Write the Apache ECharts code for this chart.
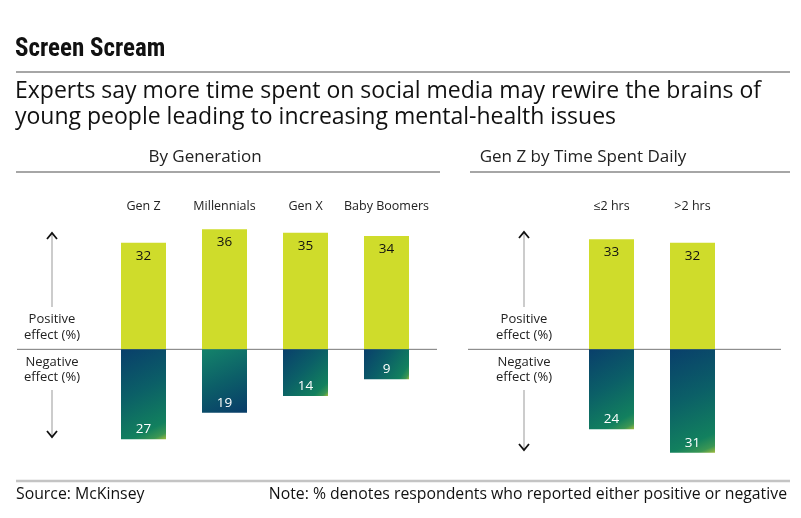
<!DOCTYPE html>
<html lang="en">

<head>
    <meta charset="UTF-8">
    <title>Screen Scream</title>
    <script src="https://cdn.jsdelivr.net/npm/echarts@6.0.0/dist/echarts.min.js"></script>
    <style>
        * {
            margin: 0;
            padding: 0;
        }

        body {
            background: #ffffff;
        }

        #chart {
            width: 801px;
            height: 518px;
        }
    </style>
</head>

<body>
    <div id="chart"></div>

    <script>
        // data
        const generations = ['Gen Z', 'Millennials', 'Gen X', 'Baby Boomers'];
        const genPositive = [32, 36, 35, 34];
        const genNegative = [27, 19, 14, 9];

        const timeBuckets = ['≤2 hrs', '>2 hrs'];
        const timePositive = [33, 32];
        const timeNegative = [24, 31];

        const FONT = "'Open Sans', 'DejaVu Sans', sans-serif";
        const POS_COLOR = '#cfdc2b';

        // the Millennials bar runs its gradient the other way round
        function negGradient(reversed) {
            if (reversed) {
                return new echarts.graphic.LinearGradient(0.2, 0, 0.8, 1, [
                    { offset: 0, color: '#13806a' },
                    { offset: 0.5, color: '#0c5f68' },
                    { offset: 1, color: '#093f69' }
                ]);
            }
            return new echarts.graphic.LinearGradient(0, 0, 1, 1, [
                { offset: 0, color: '#093f6b' },
                { offset: 0.45, color: '#0b5f67' },
                { offset: 0.84, color: '#12805e' },
                { offset: 0.94, color: '#3a9654' },
                { offset: 1, color: '#9fbb3e' }
            ]);
        }

        function negData(values, reversedIdx) {
            return values.map(function (v, i) {
                return {
                    value: -v,
                    itemStyle: { color: negGradient(reversedIdx.indexOf(i) >= 0) }
                };
            });
        }

        function xAxisFor(idx, cats) {
            return {
                type: 'category',
                gridIndex: idx,
                data: cats,
                position: 'top',
                axisLine: { show: false },
                axisTick: { show: false },
                axisLabel: { interval: 0, color: '#222', fontSize: 12.5, fontFamily: FONT, margin: 3 }
            };
        }

        function yAxisFor(idx) {
            return { type: 'value', gridIndex: idx, min: -32, max: 40, show: false };
        }

        function posSeries(idx, values) {
            return {
                type: 'bar',
                xAxisIndex: idx,
                yAxisIndex: idx,
                stack: 's' + idx,
                barWidth: 45,
                data: values,
                itemStyle: { color: POS_COLOR },
                label: {
                    show: true,
                    position: 'insideTop',
                    distance: 6,
                    color: '#111',
                    fontSize: 13.5,
                    fontFamily: FONT
                },
                silent: true
            };
        }

        function negSeries(idx, values, reversedIdx) {
            return {
                type: 'bar',
                xAxisIndex: idx,
                yAxisIndex: idx,
                stack: 's' + idx,
                barWidth: 45,
                data: negData(values, reversedIdx),
                label: {
                    show: true,
                    position: 'insideBottom',
                    distance: 3,
                    color: '#fff',
                    fontSize: 13.5,
                    fontFamily: FONT,
                    formatter: function (p) { return Math.abs(p.value); }
                },
                silent: true
            };
        }

        function hline(x1, x2, y, color, w) {
            return {
                type: 'line',
                silent: true,
                shape: { x1: x1, y1: y, x2: x2, y2: y },
                style: { stroke: color, lineWidth: w }
            };
        }

        function txt(text, x, y, size, opts) {
            opts = opts || {};
            return {
                type: 'text',
                silent: true,
                x: x,
                y: y,
                style: {
                    text: text,
                    font: (opts.weight || 'normal') + ' ' + size + 'px ' + (opts.family || FONT),
                    fill: opts.color || '#111',
                    align: opts.align || 'left',
                    verticalAlign: 'middle'
                }
            };
        }

        // vertical arrow with the two effect captions
        function effectArrow(x, top, bottom) {
            const els = [];
            els.push({ type: 'line', silent: true, shape: { x1: x, y1: top, x2: x, y2: 307 }, style: { stroke: '#999', lineWidth: 1 } });
            els.push({ type: 'line', silent: true, shape: { x1: x, y1: 390, x2: x, y2: bottom }, style: { stroke: '#999', lineWidth: 1 } });
            els.push({ type: 'polyline', silent: true, shape: { points: [[x - 5, top + 6], [x, top], [x + 5, top + 6]] }, style: { stroke: '#111', lineWidth: 1.8, fill: null } });
            els.push({ type: 'polyline', silent: true, shape: { points: [[x - 5, bottom - 6], [x, bottom], [x + 5, bottom - 6]] }, style: { stroke: '#111', lineWidth: 1.8, fill: null } });
            els.push(txt('Positive', x, 319, 13, { align: 'center', color: '#222' }));
            els.push(txt('effect (%)', x, 335, 13, { align: 'center', color: '#222' }));
            els.push(txt('Negative', x, 362, 13, { align: 'center', color: '#222' }));
            els.push(txt('effect (%)', x, 377, 13, { align: 'center', color: '#222' }));
            return els;
        }

        const chart = echarts.init(document.getElementById('chart'), null, { renderer: 'canvas' });

        const option = {
            animation: false,
            backgroundColor: '#ffffff',
            grid: [
                { left: 103, top: 216, width: 324, height: 240 },
                { left: 571, top: 216, width: 162, height: 240 }
            ],
            xAxis: [xAxisFor(0, generations), xAxisFor(1, timeBuckets)],
            yAxis: [yAxisFor(0), yAxisFor(1)],
            series: [
                posSeries(0, genPositive),
                negSeries(0, genNegative, [1]),
                posSeries(1, timePositive),
                negSeries(1, timeNegative, [])
            ]
        };

        chart.setOption(option);

        // zero lines sit on the value scale
        const zeroY = chart.convertToPixel({ yAxisIndex: 0 }, 0);

        const graphics = [
            txt('Screen Scream', 15, 50, 25, { weight: 'bold', family: "'Liberation Sans Narrow', 'Roboto Condensed', 'DejaVu Sans Condensed', sans-serif" }),
            hline(16, 790, 72, '#888', 1.5),
            txt('Experts say more time spent on social media may rewire the brains of', 15, 91, 23),
            txt('young people leading to increasing mental-health issues', 15, 117, 23),
            txt('By Generation', 205, 157, 17, { align: 'center', color: '#222' }),
            txt('Gen Z by Time Spent Daily', 583, 157, 17, { align: 'center', color: '#222' }),
            hline(16, 440, 172, '#888', 1.5),
            hline(470, 790, 172, '#888', 1.5),
            hline(17, 437, zeroY, '#777', 1),
            hline(468, 781, zeroY, '#777', 1),
            hline(16, 790, 481, '#c4c4c4', 2.5),
            txt('Source: McKinsey', 16, 494, 15.8),
            txt('Note: % denotes respondents who reported either positive or negative', 787, 494, 15.8, { align: 'right' })
        ].concat(effectArrow(52, 233, 437), effectArrow(524, 232, 450));

        chart.setOption({ graphic: graphics });

        window.addEventListener('resize', function () {
            chart.resize();
        });
    </script>
</body>

</html>
